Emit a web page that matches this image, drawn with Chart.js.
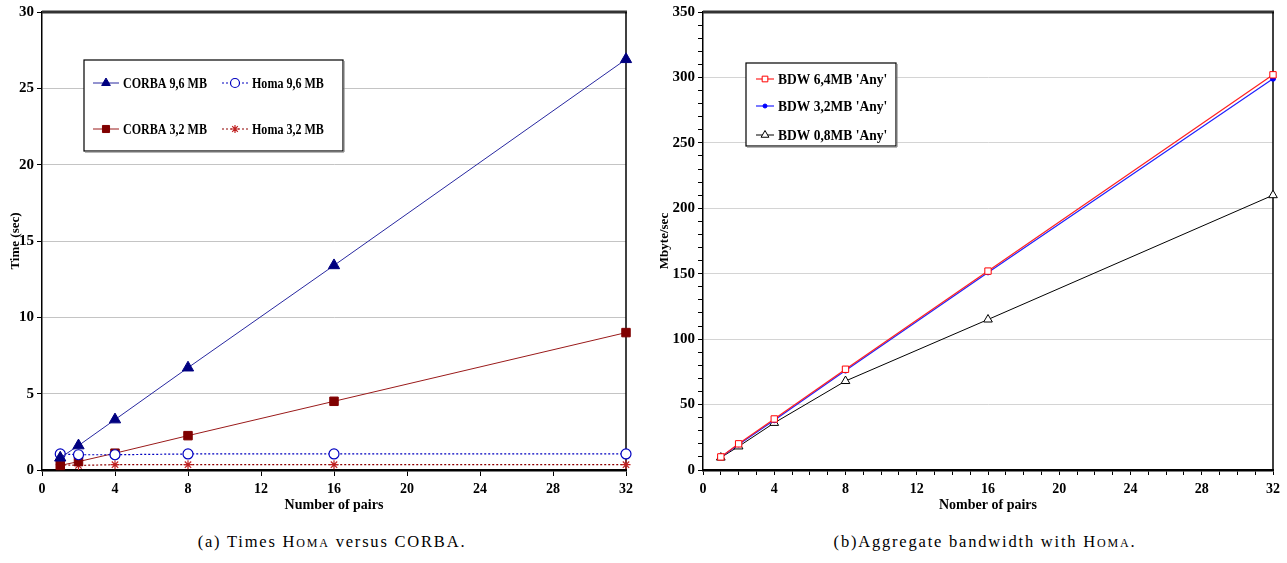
<!DOCTYPE html>
<html lang="en">
<head>
    <meta charset="UTF-8">
    <title>Homa vs CORBA</title>
    <style>
        body { margin: 0; background: #fff; width: 1287px; height: 563px; position: relative; overflow: hidden; }
        canvas { position: absolute; top: 0; }
        #times { left: 0; }
        #bandwidth { left: 660px; }
        .caption { position: absolute; top: 532px; font-family: "Liberation Serif", serif; font-size: 16.5px; letter-spacing: 1.8px; color: #000; text-align: center; }
        .sc { font-variant: small-caps; }
    </style>
    <script src="https://cdn.jsdelivr.net/npm/chart.js"></script>
</head>
<body>
    <canvas id="times" width="640" height="520"></canvas>
    <canvas id="bandwidth" width="627" height="520"></canvas>
    <div class="caption" style="left: 0; width: 664px;">(a) Times <span class="sc">Homa</span> versus CORBA.</div>
    <div class="caption" style="left: 660px; width: 650px;">(b)Aggregate bandwidth with <span class="sc">Homa</span>.</div>

<script type="text/javascript">

    // ---- data ----
    const pairs = [1, 2, 4, 8, 16, 32];

    const corba96 = [0.8, 1.6, 3.3, 6.7, 13.4, 26.9];
    const homa96 = [1.05, 1.0, 1.0, 1.05, 1.05, 1.05];
    const corba32 = [0.3, 0.55, 1.1, 2.25, 4.5, 9.0];
    const homa32 = [0.35, 0.3, 0.35, 0.35, 0.35, 0.35];

    const bdw64 = [10, 20, 39, 77, 152, 302];
    const bdw32 = [10, 19.5, 38, 76, 151, 299];
    const bdw08 = [9.5, 18, 36, 68, 115, 210];

    const timesLabels = ['CORBA 9,6 MB', 'Homa 9,6 MB', 'CORBA 3,2 MB', 'Homa 3,2 MB'];
    const bdwLabels = ["BDW 6,4MB 'Any'", "BDW 3,2MB 'Any'", "BDW 0,8MB 'Any'"];

    const FONT = '"Liberation Serif", "Times New Roman", serif';

    function toPoints(ys) {
        return pairs.map((x, i) => ({ x: x, y: ys[i] }));
    }

    // plot frame: top and right edges
    const framePlugin = {
        id: 'frame',
        beforeDatasetsDraw(chart) {
            const a = chart.chartArea, ctx = chart.ctx;
            ctx.save();
            ctx.strokeStyle = '#333';
            ctx.lineWidth = 3;
            ctx.beginPath();
            ctx.moveTo(a.left, a.top);
            ctx.lineTo(a.right + 1, a.top);
            ctx.stroke();
            ctx.strokeStyle = '#000';
            ctx.lineWidth = 1.5;
            ctx.beginPath();
            ctx.moveTo(a.right, a.top);
            ctx.lineTo(a.right, a.bottom);
            ctx.stroke();
            ctx.restore();
        }
    };

    // legend box drawn inside the plot
    const boxLegendPlugin = {
        id: 'boxLegend',
        afterDraw(chart, args, opts) {
            const ctx = chart.ctx;
            const b = opts.box;
            ctx.save();
            ctx.fillStyle = '#fff';
            ctx.fillRect(b.x, b.y, b.w, b.h);
            ctx.strokeStyle = '#000';
            ctx.lineWidth = 1.2;
            ctx.strokeRect(b.x, b.y, b.w, b.h);
            ctx.fillStyle = '#888';
            ctx.fillRect(b.x + 1, b.y + b.h + 0.6, b.w, 1);
            ctx.fillRect(b.x + b.w + 0.6, b.y + 1, 1, b.h);

            opts.items.forEach((it, i) => {
                const ds = chart.data.datasets[i];
                ctx.strokeStyle = ds.borderColor;
                ctx.lineWidth = ds.borderWidth;
                ctx.setLineDash(ds.borderDash || []);
                ctx.beginPath();
                ctx.moveTo(it.x, it.y);
                ctx.lineTo(it.x + opts.lineLen, it.y);
                ctx.stroke();
                ctx.setLineDash([]);
                ctx.fillStyle = ds.pointBackgroundColor;
                ctx.strokeStyle = ds.pointBorderColor;
                ctx.lineWidth = ds.pointBorderWidth;
                Chart.helpers.drawPoint(ctx, {
                    pointStyle: ds.pointStyle,
                    radius: opts.markerRadius[i],
                    rotation: 0,
                    borderWidth: ds.pointBorderWidth
                }, it.x + opts.lineLen / 2, it.y);
                // narrow bold serif, squeezed a little like the original
                ctx.save();
                ctx.translate(it.x + opts.lineLen + 4, it.y + 1);
                ctx.scale(opts.squeeze, 1);
                ctx.fillStyle = '#000';
                ctx.font = 'bold ' + opts.fontSize + 'px ' + FONT;
                ctx.textBaseline = 'middle';
                ctx.textAlign = 'left';
                ctx.fillText(ds.label, 0, 0);
                ctx.restore();
            });
            ctx.restore();
        }
    };

    function chart_times() {
        new Chart(document.getElementById('times').getContext('2d'), {
            type: 'line',
            data: {
                datasets: [
                    {
                        label: timesLabels[0],
                        data: toPoints(corba96),
                        borderColor: '#2828a0',
                        borderWidth: 1,
                        pointStyle: 'triangle',
                        pointRadius: 6.5,
                        pointBackgroundColor: '#000080',
                        pointBorderColor: '#000080',
                        pointBorderWidth: 1,
                        clip: false
                    },
                    {
                        label: timesLabels[1],
                        data: toPoints(homa96),
                        borderColor: '#0000c0',
                        borderWidth: 1.2,
                        borderDash: [2, 2],
                        pointStyle: 'circle',
                        pointRadius: 5,
                        pointBackgroundColor: '#fff',
                        pointBorderColor: '#0000c0',
                        pointBorderWidth: 1.2,
                        clip: false
                    },
                    {
                        label: timesLabels[2],
                        data: toPoints(corba32),
                        borderColor: '#9a1a1a',
                        borderWidth: 1,
                        pointStyle: 'rect',
                        pointRadius: 6,
                        pointBackgroundColor: '#800000',
                        pointBorderColor: '#800000',
                        pointBorderWidth: 1,
                        clip: false
                    },
                    {
                        label: timesLabels[3],
                        data: toPoints(homa32),
                        borderColor: '#900000',
                        borderWidth: 1.2,
                        borderDash: [2, 2],
                        pointStyle: 'star',
                        pointRadius: 4.5,
                        pointBackgroundColor: '#c02020',
                        pointBorderColor: '#c02020',
                        pointBorderWidth: 1.2,
                        clip: false
                    }
                ]
            },
            options: {
                responsive: false,
                animation: false,
                layout: { padding: { top: 11, right: 14, left: 0, bottom: 0 } },
                plugins: {
                    legend: { display: false },
                    tooltip: { enabled: false },
                    boxLegend: {
                        box: { x: 84, y: 60, w: 259, h: 91 },
                        lineLen: 26,
                        fontSize: 14,
                        squeeze: 0.86,
                        markerRadius: [5, 4.5, 5, 4],
                        items: [
                            { x: 93, y: 83 },
                            { x: 222, y: 83 },
                            { x: 93, y: 129 },
                            { x: 222, y: 129 }
                        ]
                    }
                },
                scales: {
                    x: {
                        type: 'linear',
                        min: 0,
                        max: 32,
                        afterFit(scale) { scale.height = 50; },
                        ticks: { stepSize: 4, color: '#000', padding: 5, font: { family: FONT, size: 14, weight: 'bold' } },
                        grid: { drawOnChartArea: false, color: '#000', tickLength: 6, tickWidth: 1 },
                        border: { color: '#000', width: 2.5 },
                        title: { display: true, text: 'Number of pairs', color: '#000', padding: { top: 0, bottom: 6 }, font: { family: FONT, size: 14, weight: 'bold' } }
                    },
                    y: {
                        min: 0,
                        max: 30,
                        afterFit(scale) { scale.width = 42; },
                        ticks: { stepSize: 5, color: '#000', padding: 3, font: { family: FONT, size: 15, weight: 'bold' } },
                        grid: { color: '#c4c4c4', tickColor: '#000', tickLength: 5, lineWidth: 1 },
                        border: { color: '#000', width: 1.5 },
                        title: { display: true, text: 'Time (sec)', color: '#000', padding: { top: 8, bottom: 0 }, font: { family: FONT, size: 13, weight: 'bold' } }
                    }
                }
            },
            plugins: [framePlugin, boxLegendPlugin]
        });
    }

    function chart_bandwidth() {
        new Chart(document.getElementById('bandwidth').getContext('2d'), {
            type: 'line',
            data: {
                datasets: [
                    {
                        label: bdwLabels[0],
                        data: toPoints(bdw64),
                        borderColor: '#ff2020',
                        borderWidth: 1.2,
                        pointStyle: 'rect',
                        pointRadius: 4.5,
                        pointBackgroundColor: '#fff',
                        pointBorderColor: '#ff0000',
                        pointBorderWidth: 1,
                        clip: false
                    },
                    {
                        label: bdwLabels[1],
                        data: toPoints(bdw32),
                        borderColor: '#2020ff',
                        borderWidth: 1.2,
                        pointStyle: 'circle',
                        pointRadius: 2.5,
                        pointBackgroundColor: '#0000ff',
                        pointBorderColor: '#0000ff',
                        pointBorderWidth: 1,
                        clip: false
                    },
                    {
                        label: bdwLabels[2],
                        data: toPoints(bdw08),
                        borderColor: '#000',
                        borderWidth: 1,
                        pointStyle: 'triangle',
                        pointRadius: 5,
                        pointBackgroundColor: '#fff',
                        pointBorderColor: '#000',
                        pointBorderWidth: 1,
                        clip: false
                    }
                ]
            },
            options: {
                responsive: false,
                animation: false,
                layout: { padding: { top: 11, right: 14, left: 0, bottom: 0 } },
                plugins: {
                    legend: { display: false },
                    tooltip: { enabled: false },
                    boxLegend: {
                        box: { x: 86, y: 63, w: 150, h: 83 },
                        lineLen: 18,
                        fontSize: 15,
                        squeeze: 0.9,
                        markerRadius: [4, 2, 4.5],
                        items: [
                            { x: 96, y: 79 },
                            { x: 96, y: 106 },
                            { x: 96, y: 135 }
                        ]
                    }
                },
                scales: {
                    x: {
                        type: 'linear',
                        min: 0,
                        max: 32,
                        afterFit(scale) { scale.height = 50; },
                        ticks: {
                            stepSize: 1,
                            autoSkip: false,
                            maxRotation: 0,
                            color: '#000',
                            padding: 6,
                            font: { family: FONT, size: 14, weight: 'bold' },
                            callback: (v) => (v % 4 === 0 ? String(v) : '')
                        },
                        grid: { drawOnChartArea: false, color: '#000', tickLength: 5, tickWidth: 1 },
                        border: { color: '#000', width: 2.5 },
                        title: { display: true, text: 'Nomber of pairs', color: '#000', padding: { top: 0, bottom: 6 }, font: { family: FONT, size: 14, weight: 'bold' } }
                    },
                    y: {
                        min: 0,
                        max: 350,
                        afterFit(scale) { scale.width = 43; },
                        ticks: {
                            stepSize: 10,
                            autoSkip: false,
                            color: '#000',
                            padding: 3,
                            font: { family: FONT, size: 15, weight: 'bold' },
                            callback: (v) => (v % 50 === 0 ? String(v) : '')
                        },
                        grid: {
                            color: (c) => (c.tick && c.tick.value % 50 === 0 ? '#d4d4d4' : 'rgba(0,0,0,0)'),
                            tickColor: '#000',
                            tickLength: 5,
                            lineWidth: 1
                        },
                        border: { color: '#000', width: 1.5 },
                        title: { display: true, text: 'Mbyte/sec', color: '#000', padding: { top: -3, bottom: 0 }, font: { family: FONT, size: 13, weight: 'bold' } }
                    }
                }
            },
            plugins: [framePlugin, boxLegendPlugin]
        });
    }

    chart_times();
    chart_bandwidth();
</script>
</body>
</html>
